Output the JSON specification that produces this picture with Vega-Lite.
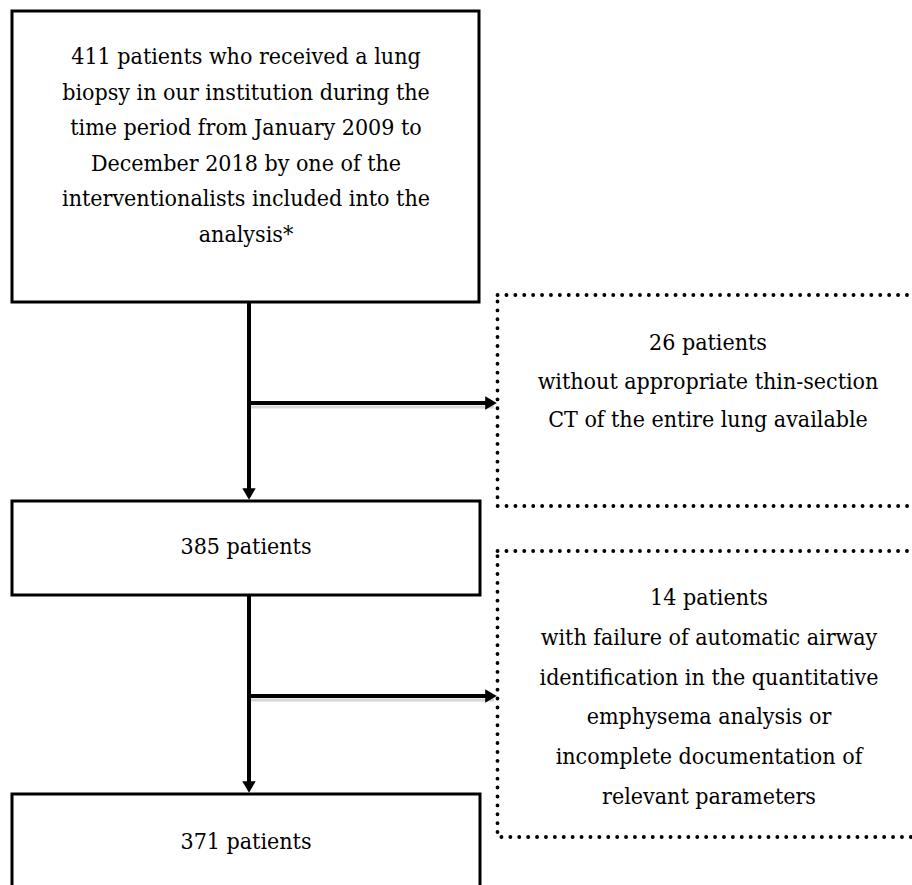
{
  "$schema": "https://vega.github.io/schema/vega-lite/v6.json",
  "autosize": {"type": "fit", "contains": "padding"},
  "width": 912,
  "height": 885,
  "padding": 0,
  "background": "white",
  "config": {"view": {"stroke": null}, "text": {"font": "DejaVu Serif Condensed", "fontSize": 23, "color": "black", "align": "center", "baseline": "middle", "lineBreak": "\n"}},
  "datasets": {
    "boxes": [
      {"id": "b1", "kind": "solid", "x": 12, "x2": 479, "y": 11, "y2": 302},
      {"id": "b2", "kind": "solid", "x": 12, "x2": 480, "y": 501, "y2": 595},
      {"id": "b3", "kind": "solid", "x": 12, "x2": 480, "y": 794, "y2": 905},
      {"id": "d1", "kind": "dotted", "x": 497.5, "x2": 935, "y": 295, "y2": 506},
      {"id": "d2", "kind": "dotted", "x": 497.5, "x2": 935, "y": 551, "y2": 837}
    ],
    "lines": [
      {"id": "v1", "x": 249, "x2": 249, "y": 302, "y2": 494},
      {"id": "v2", "x": 249, "x2": 249, "y": 595, "y2": 787},
      {"id": "h1", "x": 247, "x2": 491, "y": 403, "y2": 403},
      {"id": "h2", "x": 247, "x2": 491, "y": 696, "y2": 696}
    ],
    "shadows": [
      {"id": "s1", "x": 251, "x2": 494, "y": 407, "y2": 407},
      {"id": "s2", "x": 251, "x2": 494, "y": 700, "y2": 700}
    ],
    "heads": [
      {"id": "a1", "dir": "down", "x": 249, "y": 494},
      {"id": "a2", "dir": "down", "x": 249, "y": 787},
      {"id": "a3", "dir": "right", "x": 491, "y": 403},
      {"id": "a4", "dir": "right", "x": 491, "y": 696}
    ],
    "labels": [
      {"group": "b1", "x": 246, "y": 57, "text": "411 patients who received a lung\nbiopsy in our institution during the\ntime period from January 2009 to\nDecember 2018 by one of the\ninterventionalists included into the\nanalysis*"},
      {"group": "single", "x": 246, "y": 547, "text": "385 patients"},
      {"group": "single", "x": 246, "y": 842, "text": "371 patients"},
      {"group": "d1", "x": 708, "y": 343, "text": "26 patients\nwithout appropriate thin-section\nCT of the entire lung available"},
      {"group": "d2", "x": 709, "y": 598, "text": "14 patients\nwith failure of automatic airway\nidentification in the quantitative\nemphysema analysis or\nincomplete documentation of\nrelevant parameters"}
    ]
  },
  "encoding": {
    "x": {"type": "quantitative", "scale": {"domain": [0, 912], "nice": false, "zero": false}, "axis": null},
    "y": {"type": "quantitative", "scale": {"domain": [0, 885], "nice": false, "zero": false, "reverse": true}, "axis": null}
  },
  "layer": [
    {
      "data": {"name": "boxes"},
      "transform": [{"filter": "datum.kind === 'solid'"}],
      "mark": {"type": "rect", "fill": "white", "stroke": "black", "strokeWidth": 3, "clip": true},
      "encoding": {"x": {"field": "x"}, "x2": {"field": "x2"}, "y": {"field": "y"}, "y2": {"field": "y2"}}
    },
    {
      "data": {"name": "boxes"},
      "transform": [{"filter": "datum.kind === 'dotted'"}],
      "mark": {"type": "rect", "fill": "white", "stroke": "black", "strokeWidth": 3.8, "strokeDash": [0.1, 8.8], "strokeCap": "round", "clip": true},
      "encoding": {"x": {"field": "x"}, "x2": {"field": "x2"}, "y": {"field": "y"}, "y2": {"field": "y2"}}
    },
    {
      "data": {"name": "shadows"},
      "mark": {"type": "rule", "color": "#d6d6d6", "strokeWidth": 3},
      "encoding": {"x": {"field": "x"}, "x2": {"field": "x2"}, "y": {"field": "y"}, "y2": {"field": "y2"}}
    },
    {
      "data": {"name": "lines"},
      "mark": {"type": "rule", "color": "black", "strokeWidth": 4},
      "encoding": {"x": {"field": "x"}, "x2": {"field": "x2"}, "y": {"field": "y"}, "y2": {"field": "y2"}}
    },
    {
      "data": {"name": "heads"},
      "mark": {"type": "point", "filled": true, "color": "black", "opacity": 1, "size": 180},
      "encoding": {
        "x": {"field": "x"},
        "y": {"field": "y"},
        "shape": {"field": "dir", "type": "nominal", "scale": {"domain": ["down", "right"], "range": ["triangle-down", "triangle-right"]}, "legend": null}
      }
    },
    {
      "data": {"name": "labels"},
      "transform": [{"filter": "datum.group === 'b1'"}],
      "mark": {"type": "text", "lineHeight": 35.6},
      "encoding": {"x": {"field": "x"}, "y": {"field": "y"}, "text": {"field": "text"}}
    },
    {
      "data": {"name": "labels"},
      "transform": [{"filter": "datum.group === 'single'"}],
      "mark": {"type": "text"},
      "encoding": {"x": {"field": "x"}, "y": {"field": "y"}, "text": {"field": "text"}}
    },
    {
      "data": {"name": "labels"},
      "transform": [{"filter": "datum.group === 'd1'"}],
      "mark": {"type": "text", "lineHeight": 38.5},
      "encoding": {"x": {"field": "x"}, "y": {"field": "y"}, "text": {"field": "text"}}
    },
    {
      "data": {"name": "labels"},
      "transform": [{"filter": "datum.group === 'd2'"}],
      "mark": {"type": "text", "lineHeight": 39.8},
      "encoding": {"x": {"field": "x"}, "y": {"field": "y"}, "text": {"field": "text"}}
    }
  ]
}
